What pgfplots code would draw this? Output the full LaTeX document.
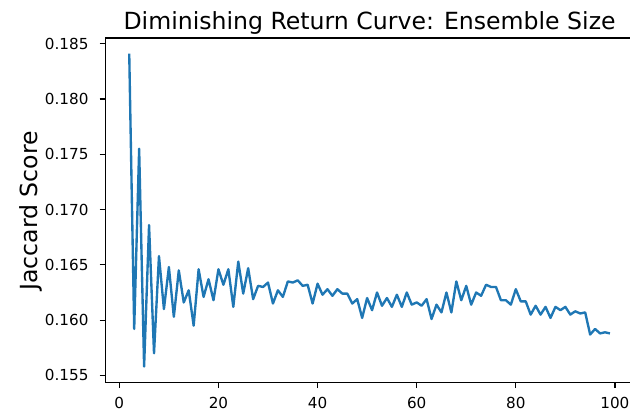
\documentclass[border=0pt]{standalone}
\usepackage{fontspec}
\setmainfont{DejaVu Sans}
\usepackage{pgfplots}
\pgfplotsset{compat=1.18}
\definecolor{mplblue}{HTML}{1F77B4}
\begin{document}
\begin{tikzpicture}
\useasboundingbox (0,0) rectangle (630pt,412pt);
\clip (0,0) rectangle (630pt,412pt);
\begin{axis}[
  at={(105.2pt,29.4pt)}, anchor=south west,
  scale only axis, width=528.8pt, height=344.7pt,
  xmin=-2.85, xmax=103.85, ymin=0.15435, ymax=0.18553,
  xtick={0,20,40,60,80,100},
  ytick={0.155,0.16,0.165,0.17,0.175,0.18,0.185},
  axis line style={line width=1.26pt},
  tick align=outside, tick pos=left, major tick length=5.5pt,
  every tick/.style={black, line width=1.26pt},
  tick label style={font=\fontsize{15.2}{18}\selectfont},
  /pgf/number format/assume math mode=true,
  scaled y ticks=false,
  yticklabel style={/pgf/number format/.cd, fixed, fixed zerofill, precision=3, /tikz/.cd, anchor=east, inner sep=0pt, xshift=-11pt},
  xticklabel style={anchor=north, inner sep=0pt, yshift=-9pt},
]
\addplot[color=mplblue, line width=2.36pt, line join=round] coordinates {
(2,0.1841) (3,0.1592) (4,0.1755) (5,0.1558) (6,0.1686) (7,0.1570) (8,0.1658) (9,0.1610) (10,0.1648)
(11,0.1603) (12,0.1645) (13,0.1616) (14,0.1627) (15,0.1595) (16,0.1646) (17,0.1621) (18,0.1637) (19,0.1618) (20,0.1646)
(21,0.1632) (22,0.1646) (23,0.1612) (24,0.1653) (25,0.1624) (26,0.1647) (27,0.1619) (28,0.1631) (29,0.1630) (30,0.1634)
(31,0.1615) (32,0.1627) (33,0.1621) (34,0.1635) (35,0.1634) (36,0.1636) (37,0.1631) (38,0.1632) (39,0.1615) (40,0.1633)
(41,0.1623) (42,0.1628) (43,0.1622) (44,0.1628) (45,0.1624) (46,0.1624) (47,0.1615) (48,0.1619) (49,0.1602) (50,0.1620)
(51,0.1609) (52,0.1625) (53,0.1613) (54,0.1620) (55,0.1612) (56,0.1623) (57,0.1612) (58,0.1625) (59,0.1614) (60,0.1616)
(61,0.1613) (62,0.1619) (63,0.1601) (64,0.1614) (65,0.1607) (66,0.1625) (67,0.1607) (68,0.1635) (69,0.1618) (70,0.1631)
(71,0.1614) (72,0.1625) (73,0.1622) (74,0.1632) (75,0.1630) (76,0.1630) (77,0.1618) (78,0.1618) (79,0.1614) (80,0.1628)
(81,0.1617) (82,0.1617) (83,0.1605) (84,0.1613) (85,0.1605) (86,0.1612) (87,0.1602) (88,0.1612) (89,0.1609) (90,0.1612)
(91,0.1605) (92,0.1608) (93,0.1606) (94,0.1607) (95,0.1587) (96,0.1592) (97,0.1588) (98,0.1589) (99,0.1588)
};
\end{axis}
\node[anchor=base, font=\fontsize{23.6}{28}\selectfont, inner sep=0pt] at (369.6pt,382.7pt) {Diminishing Return Curve: Ensemble Size};
\node[rotate=90, anchor=base, font=\fontsize{23.6}{28}\selectfont, inner sep=0pt] at (37pt,201.2pt) {Jaccard Score};
\end{tikzpicture}
\end{document}
